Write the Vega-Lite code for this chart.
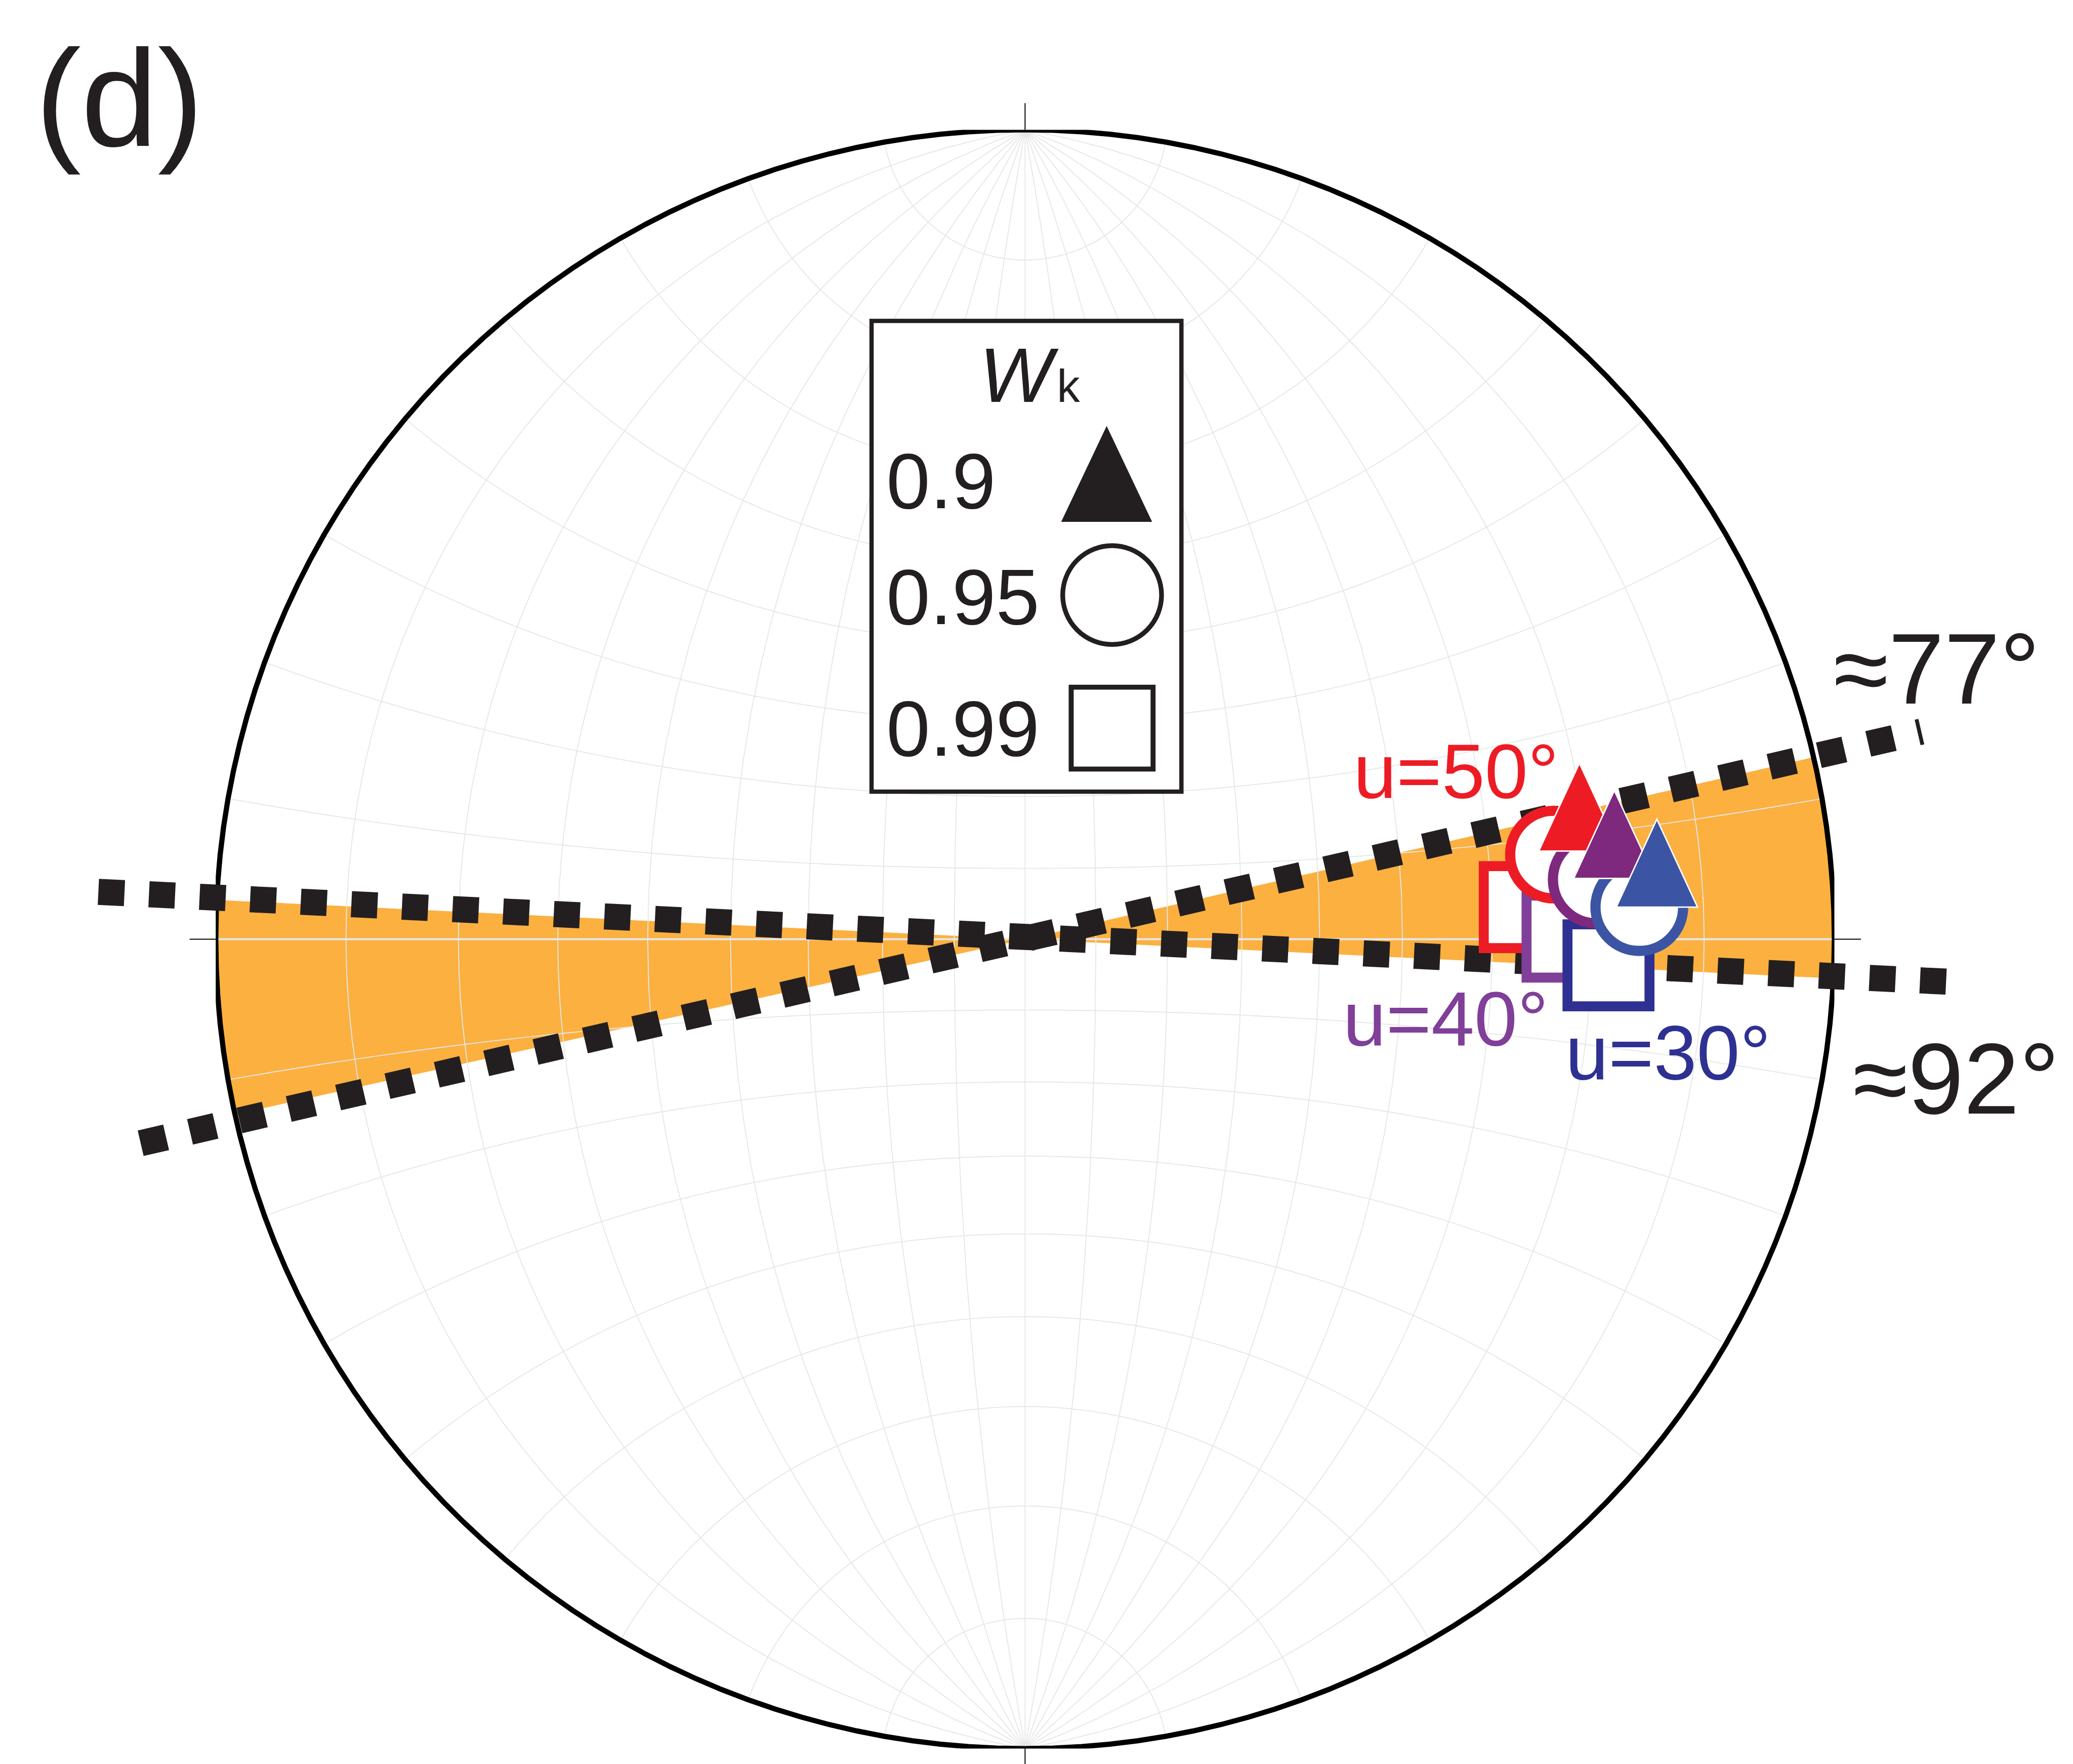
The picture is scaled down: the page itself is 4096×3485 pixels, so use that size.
{
  "$schema": "https://vega.github.io/schema/vega-lite/v6.json",
  "width": 3198.2,
  "height": 3198.2,
  "autosize": {"type": "none"},
  "padding": {"left": 426.3, "top": 256.4, "right": 471.5, "bottom": 30.4},
  "background": "white",
  "config": {"view": {"stroke": null}, "font": "Liberation Sans"},
  "resolve": {"scale": {"stroke": "independent", "fill": "independent"}},
  "datasets": {
    "wedge": [{"from": 77.0, "to": 92.78}, {"from": 257.5, "to": 272.78}],
    "ticks": [
      {"x": 0, "y": 1, "x2": 0, "y2": 1.0329},
      {"x": 0, "y": -1, "x2": 0, "y2": -1.0329},
      {"x": -1, "y": 0, "x2": -1.0323, "y2": 0},
      {"x": 1, "y": 0, "x2": 1.0329, "y2": 0}
    ],
    "box": [{"x": -0.18967, "x2": 0.19319, "y": 0.76394, "y2": 0.18233}],
    "legendSymbols": [
      {"Wk": 0.9, "x": 0.10082, "y": 0.57487},
      {"Wk": 0.95, "x": 0.10758, "y": 0.42519},
      {"Wk": 0.99, "x": 0.10758, "y": 0.26078}
    ],
    "legendText": [
      {"label": "0.9", "x": -0.17146, "y": 0.53277},
      {"label": "0.95", "x": -0.17146, "y": 0.38931},
      {"label": "0.99", "x": -0.17146, "y": 0.22678}
    ],
    "lines": [
      {"az": 92, "x": -1.14504, "y": 0.05848, "x2": 1.14034, "y2": -0.05255},
      {"az": 77, "x": -1.09278, "y": -0.25209, "x2": 1.10746, "y2": 0.25643}
    ],
    "points": [
      {"u": "50", "Wk": 0.99, "x": 0.61744, "y": 0.03964},
      {"u": "40", "Wk": 0.99, "x": 0.67029, "y": 0.00323},
      {"u": "30", "Wk": 0.99, "x": 0.7209, "y": -0.0323},
      {"u": "50", "Wk": 0.95, "x": 0.65355, "y": 0.10452},
      {"u": "40", "Wk": 0.95, "x": 0.7064, "y": 0.07369},
      {"u": "30", "Wk": 0.95, "x": 0.75896, "y": 0.03964},
      {"u": "50", "Wk": 0.9, "x": 0.68497, "y": 0.16321},
      {"u": "40", "Wk": 0.9, "x": 0.72812, "y": 0.12948},
      {"u": "30", "Wk": 0.9, "x": 0.78068, "y": 0.09395}
    ],
    "uLabels": [
      {"u": "50", "label": "u=50°", "x": 0.40575, "y": 0.1744},
      {"u": "40", "label": "u=40°", "x": 0.39283, "y": -0.13153},
      {"u": "30", "label": "u=30°", "x": 0.66765, "y": -0.17381}
    ],
    "angleLabels": [
      {"label": "≈77°", "x": 0.99883, "y": 0.29125},
      {"label": "≈92°", "x": 1.0229, "y": -0.2155}
    ],
    "panel": [{"label": "(d)", "x": -1.2230, "y": 0.98003}]
  },
  "layer": [
    {
      "data": {"name": "wedge"},
      "mark": {"type": "arc", "fill": "#FBB040", "radius": {"expr": "width / 2"}},
      "encoding": {
        "theta": {"field": "from", "type": "quantitative", "stack": null, "scale": {"domain": [0, 360], "range": [0, 6.283185307179586]}},
        "theta2": {"field": "to"}
      }
    },
    {
      "data": {"graticule": {"extentMinor": [[-180, -89.999], [180, 89.999]], "stepMinor": [10, 10]}},
      "mark": {"type": "geoshape", "filled": false, "stroke": "#e6e7e8", "strokeWidth": 1.9},
      "projection": {"type": "stereographic", "clipAngle": 90, "scale": {"expr": "width / 2"}, "translate": {"expr": "[width / 2, height / 2]"}}
    },
    {
      "data": {"values": [{"x": -1, "x2": 1, "y": 0}]},
      "mark": {"type": "rule", "stroke": "#e6e7e8", "strokeWidth": 4.2},
      "encoding": {
        "x": {"field": "x", "type": "quantitative", "scale": {"domain": [-1, 1], "nice": false, "zero": false}, "axis": null},
        "x2": {"field": "x2"},
        "y": {"field": "y", "type": "quantitative", "scale": {"domain": [-1, 1], "nice": false, "zero": false}, "axis": null}
      }
    },
    {
      "data": {"sphere": true},
      "mark": {"type": "geoshape", "filled": false, "stroke": "#000000", "strokeWidth": 10.3},
      "projection": {"type": "stereographic", "clipAngle": 90, "scale": {"expr": "width / 2"}, "translate": {"expr": "[width / 2, height / 2]"}}
    },
    {
      "data": {"name": "ticks"},
      "mark": {"type": "rule", "stroke": "#000000", "strokeWidth": 2},
      "encoding": {
        "x": {"field": "x", "type": "quantitative", "scale": {"domain": [-1, 1], "nice": false, "zero": false}, "axis": null},
        "x2": {"field": "x2"},
        "y": {"field": "y", "type": "quantitative", "scale": {"domain": [-1, 1], "nice": false, "zero": false}, "axis": null},
        "y2": {"field": "y2"}
      }
    },
    {
      "data": {"name": "box"},
      "mark": {"type": "rect", "fill": "white", "stroke": "#231f20", "strokeWidth": 8.5},
      "encoding": {
        "x": {"field": "x", "type": "quantitative", "scale": {"domain": [-1, 1], "nice": false, "zero": false}, "axis": null},
        "x2": {"field": "x2"},
        "y": {"field": "y", "type": "quantitative", "scale": {"domain": [-1, 1], "nice": false, "zero": false}, "axis": null},
        "y2": {"field": "y2"}
      }
    },
    {
      "data": {"name": "legendSymbols"},
      "transform": [{"filter": "datum.Wk == 0.9"}],
      "mark": {"type": "point", "shape": "M0,-1L0.9475,1L-0.9475,1Z", "size": 35986, "filled": true, "fill": "#231f20", "strokeWidth": 0, "opacity": 1},
      "encoding": {
        "x": {"field": "x", "type": "quantitative", "scale": {"domain": [-1, 1], "nice": false, "zero": false}, "axis": null},
        "y": {"field": "y", "type": "quantitative", "scale": {"domain": [-1, 1], "nice": false, "zero": false}, "axis": null}
      }
    },
    {
      "data": {"name": "legendSymbols"},
      "transform": [{"filter": "datum.Wk == 0.95"}],
      "mark": {"type": "point", "shape": "circle", "size": 38142, "fill": "white", "stroke": "#231f20", "strokeWidth": 9.4, "opacity": 1},
      "encoding": {
        "x": {"field": "x", "type": "quantitative", "scale": {"domain": [-1, 1], "nice": false, "zero": false}, "axis": null},
        "y": {"field": "y", "type": "quantitative", "scale": {"domain": [-1, 1], "nice": false, "zero": false}, "axis": null}
      }
    },
    {
      "data": {"name": "legendSymbols"},
      "transform": [{"filter": "datum.Wk == 0.99"}],
      "mark": {"type": "point", "shape": "square", "size": 26180, "fill": "white", "stroke": "#231f20", "strokeWidth": 9.9, "opacity": 1},
      "encoding": {
        "x": {"field": "x", "type": "quantitative", "scale": {"domain": [-1, 1], "nice": false, "zero": false}, "axis": null},
        "y": {"field": "y", "type": "quantitative", "scale": {"domain": [-1, 1], "nice": false, "zero": false}, "axis": null}
      }
    },
    {
      "data": {"name": "legendText"},
      "mark": {"type": "text", "fontSize": 155.5, "align": "left", "baseline": "alphabetic", "fill": "#231f20"},
      "encoding": {
        "x": {"field": "x", "type": "quantitative", "scale": {"domain": [-1, 1], "nice": false, "zero": false}, "axis": null},
        "y": {"field": "y", "type": "quantitative", "scale": {"domain": [-1, 1], "nice": false, "zero": false}, "axis": null},
        "text": {"field": "label"}
      }
    },
    {
      "data": {"values": [{"label": "W", "x": -0.0564, "y": 0.66377}]},
      "mark": {"type": "text", "fontSize": 153, "fontStyle": "italic", "align": "left", "baseline": "alphabetic", "fill": "#231f20"},
      "encoding": {
        "x": {"field": "x", "type": "quantitative", "scale": {"domain": [-1, 1], "nice": false, "zero": false}, "axis": null},
        "y": {"field": "y", "type": "quantitative", "scale": {"domain": [-1, 1], "nice": false, "zero": false}, "axis": null},
        "text": {"field": "label"}
      }
    },
    {
      "data": {"values": [{"label": "k", "x": 0.0393, "y": 0.66377}]},
      "mark": {"type": "text", "fontSize": 91, "align": "left", "baseline": "alphabetic", "fill": "#231f20"},
      "encoding": {
        "x": {"field": "x", "type": "quantitative", "scale": {"domain": [-1, 1], "nice": false, "zero": false}, "axis": null},
        "y": {"field": "y", "type": "quantitative", "scale": {"domain": [-1, 1], "nice": false, "zero": false}, "axis": null},
        "text": {"field": "label"}
      }
    },
    {
      "data": {"name": "lines"},
      "mark": {"type": "rule", "stroke": "#231f20", "strokeWidth": 51.6, "strokeDash": [51.6, 48.5], "strokeCap": "butt"},
      "encoding": {
        "x": {"field": "x", "type": "quantitative", "scale": {"domain": [-1, 1], "nice": false, "zero": false}, "axis": null},
        "x2": {"field": "x2"},
        "y": {"field": "y", "type": "quantitative", "scale": {"domain": [-1, 1], "nice": false, "zero": false}, "axis": null},
        "y2": {"field": "y2"}
      }
    },
    {
      "data": {"name": "points"},
      "transform": [{"filter": "datum.Wk == 0.99"}],
      "mark": {"type": "point", "shape": "square", "size": 26244, "fill": "white", "strokeWidth": 19.7, "opacity": 1},
      "encoding": {
        "x": {"field": "x", "type": "quantitative", "scale": {"domain": [-1, 1], "nice": false, "zero": false}, "axis": null},
        "y": {"field": "y", "type": "quantitative", "scale": {"domain": [-1, 1], "nice": false, "zero": false}, "axis": null},
        "stroke": {"field": "u", "type": "nominal", "scale": {"domain": ["50", "40", "30"], "range": ["#ED1C24", "#803F98", "#2E3192"]}, "legend": null}
      }
    },
    {
      "data": {"name": "points"},
      "transform": [{"filter": "datum.Wk == 0.95"}],
      "mark": {"type": "point", "shape": "circle", "size": 30000, "fill": "white", "strokeWidth": 20.2, "opacity": 1},
      "encoding": {
        "x": {"field": "x", "type": "quantitative", "scale": {"domain": [-1, 1], "nice": false, "zero": false}, "axis": null},
        "y": {"field": "y", "type": "quantitative", "scale": {"domain": [-1, 1], "nice": false, "zero": false}, "axis": null},
        "stroke": {"field": "u", "type": "nominal", "scale": {"domain": ["50", "40", "30"], "range": ["#ED1C24", "#7E287E", "#3B55A4"]}, "legend": null}
      }
    },
    {
      "data": {"name": "points"},
      "transform": [{"filter": "datum.Wk == 0.9"}],
      "mark": {"type": "point", "shape": "M0,-1L0.9245,1L-0.9245,1Z", "size": 30172, "filled": true, "stroke": "white", "strokeWidth": 2.8, "opacity": 1},
      "encoding": {
        "x": {"field": "x", "type": "quantitative", "scale": {"domain": [-1, 1], "nice": false, "zero": false}, "axis": null},
        "y": {"field": "y", "type": "quantitative", "scale": {"domain": [-1, 1], "nice": false, "zero": false}, "axis": null},
        "fill": {"field": "u", "type": "nominal", "scale": {"domain": ["50", "40", "30"], "range": ["#ED1C24", "#7E287E", "#3B55A4"]}, "legend": null}
      }
    },
    {
      "data": {"name": "uLabels"},
      "mark": {"type": "text", "fontSize": 153, "align": "left", "baseline": "alphabetic"},
      "encoding": {
        "x": {"field": "x", "type": "quantitative", "scale": {"domain": [-1, 1], "nice": false, "zero": false}, "axis": null},
        "y": {"field": "y", "type": "quantitative", "scale": {"domain": [-1, 1], "nice": false, "zero": false}, "axis": null},
        "text": {"field": "label"},
        "fill": {"field": "u", "type": "nominal", "scale": {"domain": ["50", "40", "30"], "range": ["#ED1C24", "#803F98", "#2E3192"]}, "legend": null}
      }
    },
    {
      "data": {"name": "angleLabels"},
      "mark": {"type": "text", "fontSize": 198, "align": "left", "baseline": "alphabetic", "fill": "#231f20"},
      "encoding": {
        "x": {"field": "x", "type": "quantitative", "scale": {"domain": [-1, 1], "nice": false, "zero": false}, "axis": null},
        "y": {"field": "y", "type": "quantitative", "scale": {"domain": [-1, 1], "nice": false, "zero": false}, "axis": null},
        "text": {"field": "label"}
      }
    },
    {
      "data": {"name": "panel"},
      "mark": {"type": "text", "fontSize": 272, "align": "left", "baseline": "alphabetic", "fill": "#231f20"},
      "encoding": {
        "x": {"field": "x", "type": "quantitative", "scale": {"domain": [-1, 1], "nice": false, "zero": false}, "axis": null},
        "y": {"field": "y", "type": "quantitative", "scale": {"domain": [-1, 1], "nice": false, "zero": false}, "axis": null},
        "text": {"field": "label"}
      }
    }
  ]
}
